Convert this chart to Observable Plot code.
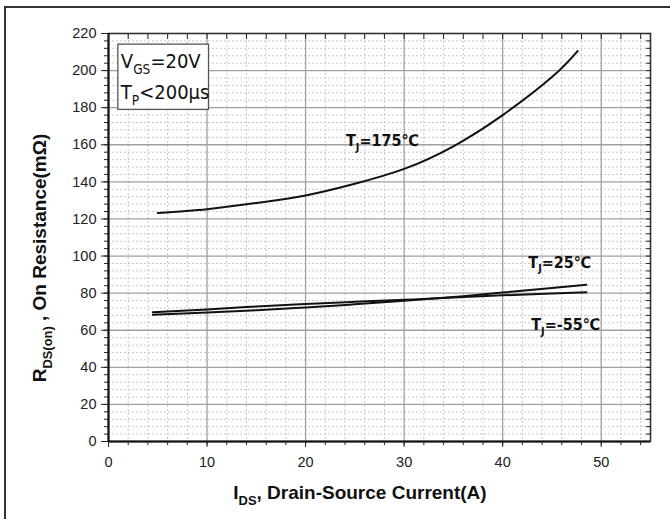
<!DOCTYPE html>
<html><head><meta charset="utf-8">
<script src="https://cdn.jsdelivr.net/npm/d3@7"></script>
<script src="https://cdn.jsdelivr.net/npm/@observablehq/plot@0.6"></script>
<style>
body{margin:0;background:#fff;}
#wrap{position:relative;width:670px;height:519px;overflow:hidden;background:#fff;}
#border{position:absolute;left:4px;top:6px;width:720px;height:620px;border:2px solid #333;box-sizing:border-box;}
#chart{position:absolute;left:0;top:0;}
</style></head><body>
<div id="wrap"><div id="border"></div><div id="chart"></div></div>
<script>
// ---- data ----
const current175 = [5, 10, 15, 20, 25, 30, 35, 40, 45, 47.6];
const rds175     = [123.2, 125.2, 128.6, 132.7, 139.0, 147.0, 159.2, 176.0, 196.5, 210.5];
const current25  = [4.5, 10, 15, 20, 25, 30, 35, 40, 45, 48.5];
const rds25      = [68.3, 69.5, 70.8, 72.3, 74.0, 75.9, 77.9, 80.3, 82.8, 84.5];
const currentM55 = [4.5, 10, 15, 20, 25, 30, 35, 40, 45, 48.5];
const rdsM55     = [69.7, 71.2, 72.8, 74.2, 75.3, 76.4, 77.6, 78.8, 79.8, 80.5];

const xMajorTicks = [0, 10, 20, 30, 40, 50];
const yMajorTicks = [0, 20, 40, 60, 80, 100, 120, 140, 160, 180, 200, 220];
const xMinorStep = 2, yMinorStep = 4;

// curve labels: main letter, subscript, rest
const curveLabelMain = ["T", "T", "T"];
const curveLabelSub  = ["J", "J", "J"];
const curveLabelRest = ["=175℃", "=25℃", "=-55℃"];
const curveLabelX = [24.1, 42.6, 42.9];
const curveLabelY = [162, 96.5, 63];

// condition box
const boxX = [1.0, 10.2];
const boxY = [178.8, 214];
const condMain = ["V", "T"];
const condSub  = ["GS", "P"];
const condRest = ["=20V", "<200μs"];
const condX = [1.25, 1.25];
const condY = [204.6, 187.9];

// ---- build ----
const toRows = (xs, ys) => xs.map((x, i) => ({x, y: ys[i]}));
const xMinor = d3.range(0, 55.01, xMinorStep);
const yMinor = d3.range(0, 220.01, yMinorStep);
const curves = [toRows(current175, rds175), toRows(current25, rds25), toRows(currentM55, rdsM55)];
const curveLabels = curveLabelMain.map((m, i) => ({x: curveLabelX[i], y: curveLabelY[i], m, s: curveLabelSub[i], r: curveLabelRest[i]}));
const condLabels = condMain.map((m, i) => ({x: condX[i], y: condY[i], m, s: condSub[i], r: condRest[i]}));

const narrow = "'Liberation Sans Narrow', 'DejaVu Sans Condensed', sans-serif";
const noText = () => "";

const plot = Plot.plot({
  width: 670, height: 519,
  marginLeft: 108, marginRight: 20, marginTop: 33, marginBottom: 78,
  x: {domain: [0, 55]},
  y: {domain: [0, 220]},
  style: {fontFamily: "'Liberation Sans', Arial, sans-serif", fontSize: "14px", color: "#222", background: "transparent", overflow: "visible"},
  marks: [
    Plot.ruleX(xMinor.filter(d => d % 10 !== 0), {stroke: "#c8c8c8", strokeDasharray: "2,2"}),
    Plot.ruleY(yMinor.filter(d => d % 20 !== 0), {stroke: "#c8c8c8", strokeDasharray: "2,2"}),
    Plot.ruleX(xMajorTicks.filter(d => d > 0), {stroke: "#a0a0a0", strokeWidth: 1.3}),
    Plot.ruleY(yMajorTicks.filter(d => d > 0 && d < 220), {stroke: "#a0a0a0", strokeWidth: 1.3}),
    Plot.frame({stroke: "#333", strokeWidth: 1.6}),
    Plot.ruleX([0], {stroke: "#111", strokeWidth: 2}),
    Plot.ruleY([0], {stroke: "#111", strokeWidth: 2}),
    Plot.axisX({ticks: xMajorTicks, tickSize: 6, tickPadding: 9, label: null, fontSize: 14.5}),
    Plot.axisX({ticks: xMinor, tickSize: 4, tickFormat: noText, label: null}),
    Plot.axisX({anchor: "top", ticks: xMinor, tickSize: -5, tickFormat: noText, label: null}),
    Plot.axisY({ticks: yMajorTicks, tickSize: 7, tickPadding: 5, label: null, fontSize: 14.5}),
    Plot.axisY({ticks: yMinor, tickSize: 4, tickFormat: noText, label: null}),
    Plot.axisY({anchor: "right", ticks: yMinor, tickSize: -5, tickFormat: noText, label: null}),
    Plot.rect([{x1: boxX[0], x2: boxX[1], y1: boxY[0], y2: boxY[1]}], {x1: "x1", x2: "x2", y1: "y1", y2: "y2", fill: "#fff", stroke: "#555", strokeWidth: 1.3}),
    ...curves.map(c => Plot.line(c, {x: "x", y: "y", curve: "natural", stroke: "#111", strokeWidth: 2})),
    Plot.text(curveLabels, {x: "x", y: "y", text: d => d.m + d.s + d.r, textAnchor: "start", fontWeight: "bold", fontSize: 16, fontFamily: narrow, fill: "#111"}),
    Plot.text(condLabels, {x: "x", y: "y", text: d => d.m + d.s + d.r, textAnchor: "start", fontSize: 20, fontFamily: narrow, fill: "#111"})
  ]
});
document.getElementById("chart").appendChild(plot);

// subscripts
const allLabels = [...curveLabels, ...condLabels];
const lookup = new Map(allLabels.map(d => [d.m + d.s + d.r, d]));
function withSub(sel, m, s, r, fs) {
  sel.text(null);
  sel.append("tspan").text(m);
  sel.append("tspan").attr("font-size", fs * 0.68).attr("dy", fs * 0.3).text(s);
  sel.append("tspan").attr("dy", -fs * 0.3).text(r);
}
d3.select(plot).selectAll("text").each(function() {
  const d = lookup.get(this.textContent);
  if (d) {
    const el = d3.select(this);
    const fs = parseFloat(getComputedStyle(this).fontSize) || 15;
    withSub(el, d.m, d.s, d.r, fs);
  }
});

// axis titles
const svg = d3.select(plot);
const tx = svg.append("text").attr("x", 360).attr("y", 499).attr("text-anchor", "middle")
  .attr("font-size", 19).attr("font-weight", "bold").attr("fill", "#111");
withSub(tx, "I", "DS", ", Drain-Source Current(A)", 19);
const ty = svg.append("text").attr("transform", "translate(46,258) rotate(-90)").attr("text-anchor", "middle")
  .attr("font-size", 19).attr("font-weight", "bold").attr("fill", "#111");
withSub(ty, "R", "DS(on)", " , On Resistance(mΩ)", 19);
</script>
</body></html>
